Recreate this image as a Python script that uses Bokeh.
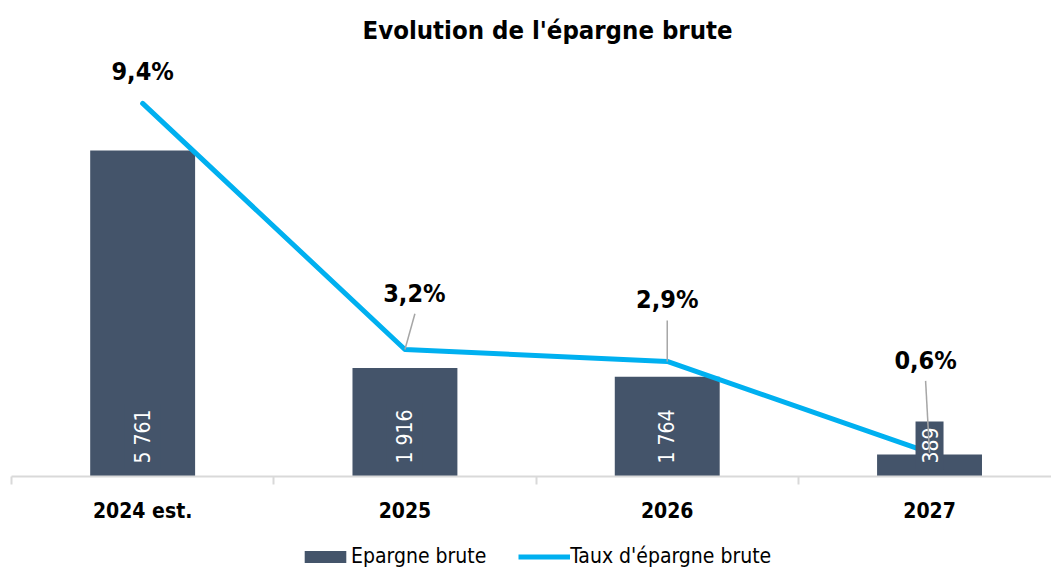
import numpy as np
from bokeh.plotting import figure
from bokeh.layouts import column
from bokeh.models import Range1d, FixedTicker, ColumnDataSource, Legend, LegendItem
from bokeh.core.properties import value
from bokeh.embed import file_html
from bokeh.resources import INLINE

# ---------------- data ----------------
categories = ["2024 est.", "2025", "2026", "2027"]
epargne_brute = [5761, 1916, 1764, 389]
taux_epargne = [9.4, 3.2, 2.9, 0.6]
bar_labels = ["5 761", "1 916", "1 764", "389"]
taux_labels = ["9,4%", "3,2%", "2,9%", "0,6%"]
series_names = ["Epargne brute", "Taux d'épargne brute"]

# ---------------- layout (label placement, not data) ----------------
lab_dx = [0.0, 0.036, 0.0, -0.015]
lab_dy = [0.80, 1.41, 1.56, 2.31]
lead_dx = [0.0, 0.038, 0.0, -0.015]
lead_dy = [0.0, 0.9, 1.03, 1.81]
show_leader = [False, True, True, True]

FONT = "'DejaVu Sans Condensed', 'Liberation Sans'"
BAR = "#44546A"
LINE = "#00B0F0"
GREY = "#D9D9D9"

xs = list(range(len(categories)))

p = figure(width=1051, height=525, output_backend="svg", toolbar_location=None,
           x_range=Range1d(-0.5, 3.465), y_range=Range1d(0, 7350),
           y_axis_location=None, min_border_left=11, min_border_right=0,
           min_border_top=60, min_border_bottom=48,
           title="Evolution de l'épargne brute")
p.extra_y_ranges = {"pct": Range1d(0, 10.48)}
p.outline_line_color = None
p.grid.visible = False
p.background_fill_color = "white"
p.border_fill_color = "white"

p.title.align = "left"
p.title.vertical_align = "top"
p.title.offset = 351
p.title.standoff = 28
p.title.text_font = FONT
p.title.text_font_size = "25.5px"
p.title.text_font_style = "bold"
p.title.text_color = "black"

src = ColumnDataSource(dict(x=xs, v=epargne_brute, lab=bar_labels))
p.vbar(x="x", top="v", width=0.4, fill_color=BAR, line_color=None, source=src)

p.line(xs, taux_epargne, y_range_name="pct", line_color=LINE, line_width=5,
       line_cap="round", line_join="round")

p.text(x="x", y=0, text="lab", source=src, angle=np.pi / 2, text_align="left",
       text_baseline="middle", text_color="white", text_font=value(FONT),
       text_font_size="21px", y_offset=-7, background_fill_color=BAR, padding=6)

lx0 = [x + d for x, d, s in zip(xs, lead_dx, show_leader) if s]
ly0 = [t + d for t, d, s in zip(taux_epargne, lead_dy, show_leader) if s]
lx1 = [x for x, s in zip(xs, show_leader) if s]
ly1 = [t for t, s in zip(taux_epargne, show_leader) if s]
p.segment(lx0, ly0, lx1, ly1, y_range_name="pct", line_color="#A6A6A6", line_width=1.5)

p.text([x + d for x, d in zip(xs, lab_dx)], [t + d for t, d in zip(taux_epargne, lab_dy)],
       text=taux_labels, y_range_name="pct", text_align="center", text_baseline="alphabetic",
       text_color="black", text_font=value(FONT), text_font_style="bold", text_font_size="25px")

ax = p.xaxis[0]
ax.ticker = FixedTicker(ticks=xs, minor_ticks=[i - 0.5 for i in range(len(categories) + 1)])
ax.major_label_overrides = {i: c for i, c in enumerate(categories)}
ax.major_tick_line_color = None
ax.minor_tick_line_color = GREY
ax.minor_tick_line_width = 2
ax.minor_tick_in = 0
ax.minor_tick_out = 8
ax.axis_line_color = GREY
ax.axis_line_width = 2
ax.major_label_text_font = FONT
ax.major_label_text_font_size = "21px"
ax.major_label_text_font_style = "bold"
ax.major_label_text_color = "black"
ax.major_label_standoff = 14

# ---------------- legend strip (hidden proxy renderers) ----------------
lg = figure(width=1051, height=45, output_backend="svg", toolbar_location=None,
            x_range=Range1d(-0.5, 3.5), y_range=Range1d(0, 7350),
            x_axis_location=None, y_axis_location=None,
            min_border_left=0, min_border_right=0, min_border_top=0, min_border_bottom=0)
lg.extra_y_ranges = {"pct": Range1d(0, 10.48)}
lg.outline_line_color = None
lg.grid.visible = False
lg.border_fill_color = "white"
r_bar = lg.vbar(x=xs, top=epargne_brute, width=0.4, fill_color=BAR, line_color=None, visible=False)
r_line = lg.line(xs, taux_epargne, y_range_name="pct", line_color=LINE, line_width=5, visible=False)

legend = Legend(items=[LegendItem(label=series_names[0], renderers=[r_bar]),
                       LegendItem(label=series_names[1], renderers=[r_line])],
                orientation="horizontal", location=(288, 2),
                glyph_width=52, glyph_height=15, label_standoff=0, spacing=32,
                padding=0, margin=0, border_line_color=None, background_fill_alpha=0,
                inactive_fill_alpha=0,
                label_text_font=FONT, label_text_font_size="21px", label_text_color="black")
lg.add_layout(legend, "center")

layout = column(p, lg, spacing=0)
open("out.html", "w").write(file_html(layout, INLINE))
